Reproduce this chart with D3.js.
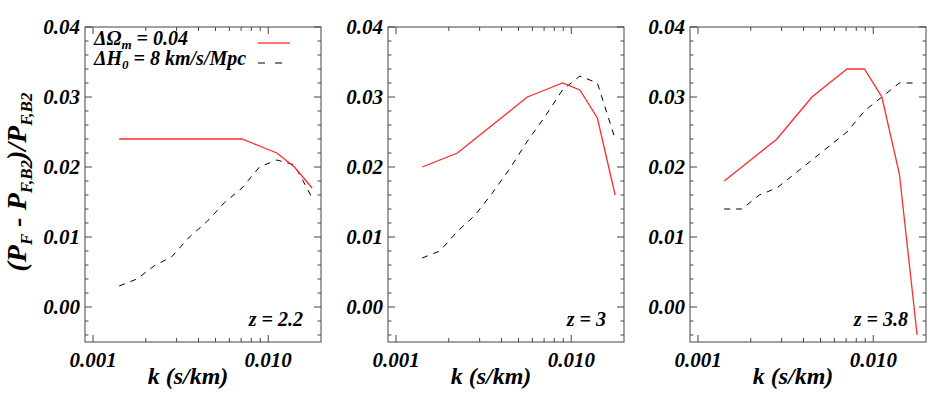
<!DOCTYPE html>
<html lang="en">
  <head>
    <meta charset="utf-8">
    <title>Flux power ratio</title>
    <script src="https://cdn.jsdelivr.net/npm/d3@7"></script>
    <style>
      body { margin: 0; background: #fff; }
      svg text { font-family: "Liberation Serif", "Times New Roman", "DejaVu Serif", serif; font-weight: bold; font-style: italic; fill: #000; }
    </style>
  </head>
  <body>
    <svg id="svg" width="945" height="393"></svg>
    <script type="text/javascript">

        // -- k bins (s/km), shared by every panel
        var kBins = [0.00141, 0.00178, 0.00224, 0.00282, 0.00355, 0.00447,
                     0.00562, 0.00708, 0.00891, 0.0112, 0.0141, 0.0178];

        // -- delta Omega_m = 0.04 (red solid)
        var omegaZ22 = [0.024, 0.024, 0.024, 0.024, 0.024, 0.024, 0.024, 0.024, 0.023, 0.022, 0.020, 0.017];
        var omegaZ30 = [0.020, 0.021, 0.022, 0.024, 0.026, 0.028, 0.030, 0.031, 0.032, 0.031, 0.027, 0.016];
        var omegaZ38 = [0.018, 0.020, 0.022, 0.024, 0.027, 0.030, 0.032, 0.034, 0.034, 0.030, 0.019, -0.004];

        // -- delta H0 = 8 km/s/Mpc (black dashed)
        var hubbleZ22 = [0.003, 0.004, 0.0059, 0.0072, 0.0100, 0.0122, 0.0149, 0.0170, 0.0200, 0.0210, 0.0203, 0.0156];
        var hubbleZ30 = [0.007, 0.008, 0.0108, 0.0131, 0.0163, 0.0198, 0.0237, 0.0272, 0.031, 0.033, 0.032, 0.024];
        var hubbleZ38 = [0.014, 0.014, 0.016, 0.017, 0.019, 0.021, 0.023, 0.025, 0.028, 0.030, 0.032, 0.032];

        var redshifts = ["2.2", "3", "3.8"];
        var yTicks = [0.00, 0.01, 0.02, 0.03, 0.04];
        var xTicks = [0.001, 0.010];

        var panels = [
            { z: redshifts[0], omega: omegaZ22, hubble: hubbleZ22 },
            { z: redshifts[1], omega: omegaZ30, hubble: hubbleZ30 },
            { z: redshifts[2], omega: omegaZ38, hubble: hubbleZ38 }
        ];

        var svg = d3.select("svg#svg");
        var panelLeft = [85, 388, 690];
        var pw = 236, plotTop = 27, plotBottom = 342;

        var y = d3.scaleLinear().domain([-0.005, 0.04]).range([plotBottom, plotTop]);

        function sub(t, s, size, shift) {
            // - lowered subscript
            t.append("tspan").attr("dy", shift).style("font-size", size + "px").text(s);
            return t;
        }

        function draw_panel(p, i) {
            var x0 = panelLeft[i];
            var x = d3.scaleLog().domain([0.0009, 0.02]).range([x0, x0 + pw]);
            var g = svg.append("g");

            // - ticks on all four sides
            var minorX = [];
            [0.001, 0.01].forEach(function(d) {
                for (var m = 1; m <= 9; m++) { if (d * m > 0.0009 && d * m < 0.0199) minorX.push(d * m); }
            });
            minorX.forEach(function(v) {
                var major = xTicks.some(function(t) { return Math.abs(t - v) < 1e-9; });
                var len = major ? 7 : 4;
                g.append("line").attr("x1", x(v)).attr("x2", x(v)).attr("y1", plotBottom).attr("y2", plotBottom - len)
                    .attr("stroke", "#444");
                g.append("line").attr("x1", x(v)).attr("x2", x(v)).attr("y1", plotTop).attr("y2", plotTop + len)
                    .attr("stroke", "#444");
            });
            d3.range(-0.004, 0.0401, 0.002).forEach(function(v) {
                var major = Math.abs(Math.round(v * 100) - v * 100) < 1e-6;
                var len = major ? 7 : 3.5;
                g.append("line").attr("x1", x0).attr("x2", x0 + len).attr("y1", y(v)).attr("y2", y(v))
                    .attr("stroke", "#444");
                g.append("line").attr("x1", x0 + pw).attr("x2", x0 + pw - len).attr("y1", y(v)).attr("y2", y(v))
                    .attr("stroke", "#444");
            });

            g.append("rect").attr("x", x0).attr("y", plotTop).attr("width", pw).attr("height", plotBottom - plotTop)
                .attr("fill", "none").attr("stroke", "#444").attr("stroke-width", 1);

            // - tick labels
            yTicks.forEach(function(v) {
                g.append("text").attr("x", x0 - 5).attr("y", y(v)).attr("dy", "0.35em")
                    .attr("text-anchor", "end").style("font-size", "21px").text(v.toFixed(2));
            });
            xTicks.forEach(function(v) {
                g.append("text").attr("x", x(v)).attr("y", 367)
                    .attr("text-anchor", "middle").style("font-size", "21px").text(v.toFixed(3));
            });
            g.append("text").attr("x", x0 + pw / 2 - 15).attr("y", 384)
                .attr("text-anchor", "middle").style("font-size", "24px").text("k (s/km)");

            // - curves
            var line = d3.line().x(function(d) { return x(d[0]); }).y(function(d) { return y(d[1]); });
            g.append("path").datum(d3.zip(kBins, p.hubble)).attr("d", line)
                .attr("fill", "none").attr("stroke", "#000").attr("stroke-width", 1)
                .attr("stroke-dasharray", "6,6");
            g.append("path").datum(d3.zip(kBins, p.omega)).attr("d", line)
                .attr("fill", "none").attr("stroke", "#ff2a2a").attr("stroke-width", 1.3);

            g.append("text").attr("x", x0 + pw - 18).attr("y", 326)
                .attr("text-anchor", "end").style("font-size", "20px").text("z = " + p.z);
        }

        panels.forEach(draw_panel);

        // - legend, first panel
        var t1 = svg.append("text").attr("x", 94).attr("y", 45).style("font-size", "20px").text("\u0394\u03A9");
        sub(t1, "m", 13, 4);
        t1.append("tspan").attr("dy", -4).text(" = 0.04");
        var t2 = svg.append("text").attr("x", 94).attr("y", 65).style("font-size", "20px").text("\u0394H");
        sub(t2, "0", 13, 4);
        t2.append("tspan").attr("dy", -4).text(" = 8 km/s/Mpc");
        svg.append("line").attr("x1", 258).attr("x2", 290).attr("y1", 43).attr("y2", 43)
            .attr("stroke", "#ff2a2a").attr("stroke-width", 1.3);
        svg.append("line").attr("x1", 258).attr("x2", 284).attr("y1", 63).attr("y2", 63)
            .attr("stroke", "#000").attr("stroke-dasharray", "7,10");

        // - y axis title
        var yt = svg.append("text").attr("transform", "translate(26,182) rotate(-90)")
            .attr("text-anchor", "middle").style("font-size", "28px").text("(P");
        sub(yt, "F", 17, 6);
        yt.append("tspan").attr("dy", -6).text(" - P");
        sub(yt, "F,B2", 17, 6);
        yt.append("tspan").attr("dy", -6).text(")/P");
        sub(yt, "F,B2", 17, 6);

    </script>
  </body>
</html>
